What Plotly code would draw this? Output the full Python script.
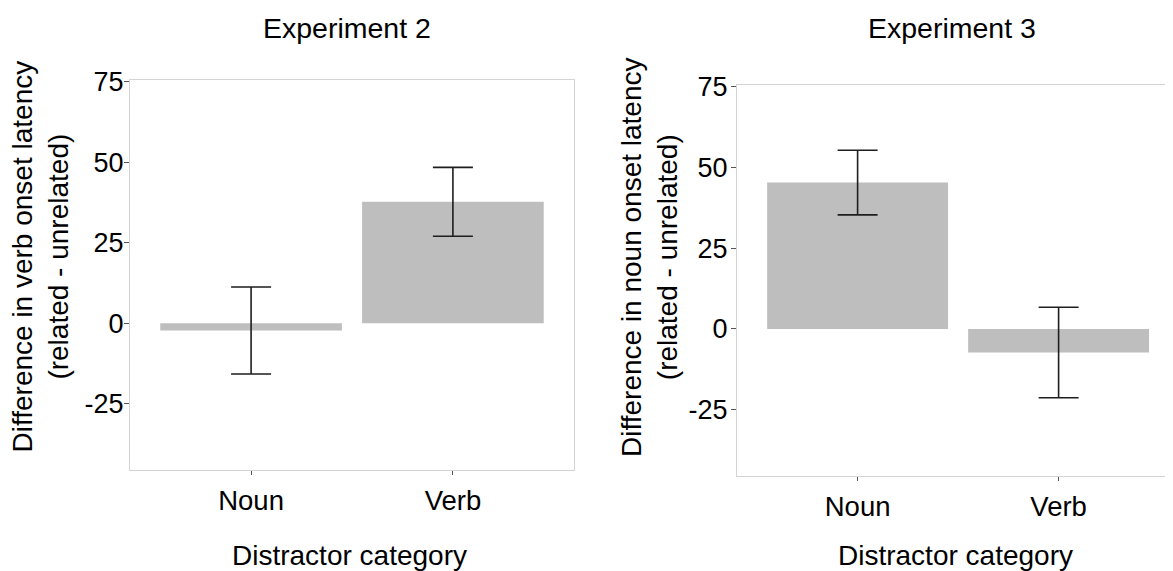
import plotly.graph_objects as go

categories = ["Noun", "Verb"]
exp2_means = [-2.2, 37.7]
exp2_err = [13.5, 10.7]
exp3_means = [45.3, -7.3]
exp3_err = [10.0, 14.0]
panel_titles = ["Experiment 2", "Experiment 3"]
y_titles = ["Difference in verb onset latency<br>(related - unrelated)",
            "Difference in noun onset latency<br>(related - unrelated)"]
x_title = "Distractor category"
y_ticks = [-25, 0, 25, 50, 75]
y_tick_labels = ["-25", "0", "25", "50", "75"]

FONT = "Liberation Sans, Arial, sans-serif"
BAR = "#BEBEBE"
W, H = 1165, 563   # page body has an 8px margin

fig = go.Figure()
for i, (m, e) in enumerate([(exp2_means, exp2_err), (exp3_means, exp3_err)]):
    fig.add_trace(go.Bar(
        x=categories, y=m, width=0.9, marker=dict(color=BAR, line=dict(width=0)),
        error_y=dict(type="data", array=e, visible=True, color="#1e1e1e",
                     thickness=1.6, width=20),
        xaxis="x" if i == 0 else "x2", yaxis="y" if i == 0 else "y2",
        showlegend=False))

def px_x(p):
    return p / W

def px_y(p):
    return 1 - p / H

axis_line = "#D4D4D4"
common_x = dict(type="category", showgrid=False, zeroline=False, showline=True,
                linecolor=axis_line, linewidth=1.2, ticks="outside", ticklen=4,
                tickcolor="#555555", tickwidth=1, automargin=False,
                tickfont=dict(family=FONT, size=27.5, color="black"),
                ticklabelstandoff=2)
common_y = dict(showgrid=False, zeroline=False, showline=True, linecolor=axis_line,
                linewidth=1.2, ticks="outside", ticklen=5, tickcolor="#555555",
                tickwidth=1, tickvals=y_ticks, ticktext=y_tick_labels,
                range=[-45.5, 75.5], automargin=False,
                tickfont=dict(family=FONT, size=27, color="black"))

fig.update_layout(
    width=W, height=H, margin=dict(l=0, r=0, t=0, b=0, autoexpand=False),
    paper_bgcolor="white", plot_bgcolor="white", bargap=0.1,
    xaxis=dict(common_x, domain=[px_x(122), px_x(566)], range=[-0.6, 1.6],
               mirror=True, anchor="y"),
    yaxis=dict(common_y, domain=[px_y(462), px_y(72)], mirror=True, anchor="x",
               ticklabelstandoff=-5),
    xaxis2=dict(common_x, domain=[px_x(729), 1.0], range=[-0.6, -0.6 + 436 / 201],
                mirror=True, anchor="y2"),
    yaxis2=dict(common_y, domain=[px_y(468), px_y(77)], anchor="x2",
                ticklabelstandoff=-2),
)

ann = []
for cx, t in zip([339, 944], panel_titles):
    ann.append(dict(text=t, x=px_x(cx), y=px_y(20), xref="paper", yref="paper",
                    showarrow=False, xanchor="center", yanchor="middle",
                    font=dict(family=FONT, size=28.5, color="black")))
for cx, t in zip([341, 947], [x_title, x_title]):
    ann.append(dict(text=t, x=px_x(cx), y=px_y(547), xref="paper", yref="paper",
                    showarrow=False, xanchor="center", yanchor="middle",
                    font=dict(family=FONT, size=28, color="black")))
for (cx, cy), t in zip([(32, 248.5), (641, 249)], y_titles):
    ann.append(dict(text=t, x=px_x(cx), y=px_y(cy), xref="paper", yref="paper",
                    showarrow=False, xanchor="center", yanchor="middle",
                    textangle=-90,
                    font=dict(family=FONT, size=28, color="black")))
fig.update_layout(annotations=ann)

fig.write_html("out.html")
